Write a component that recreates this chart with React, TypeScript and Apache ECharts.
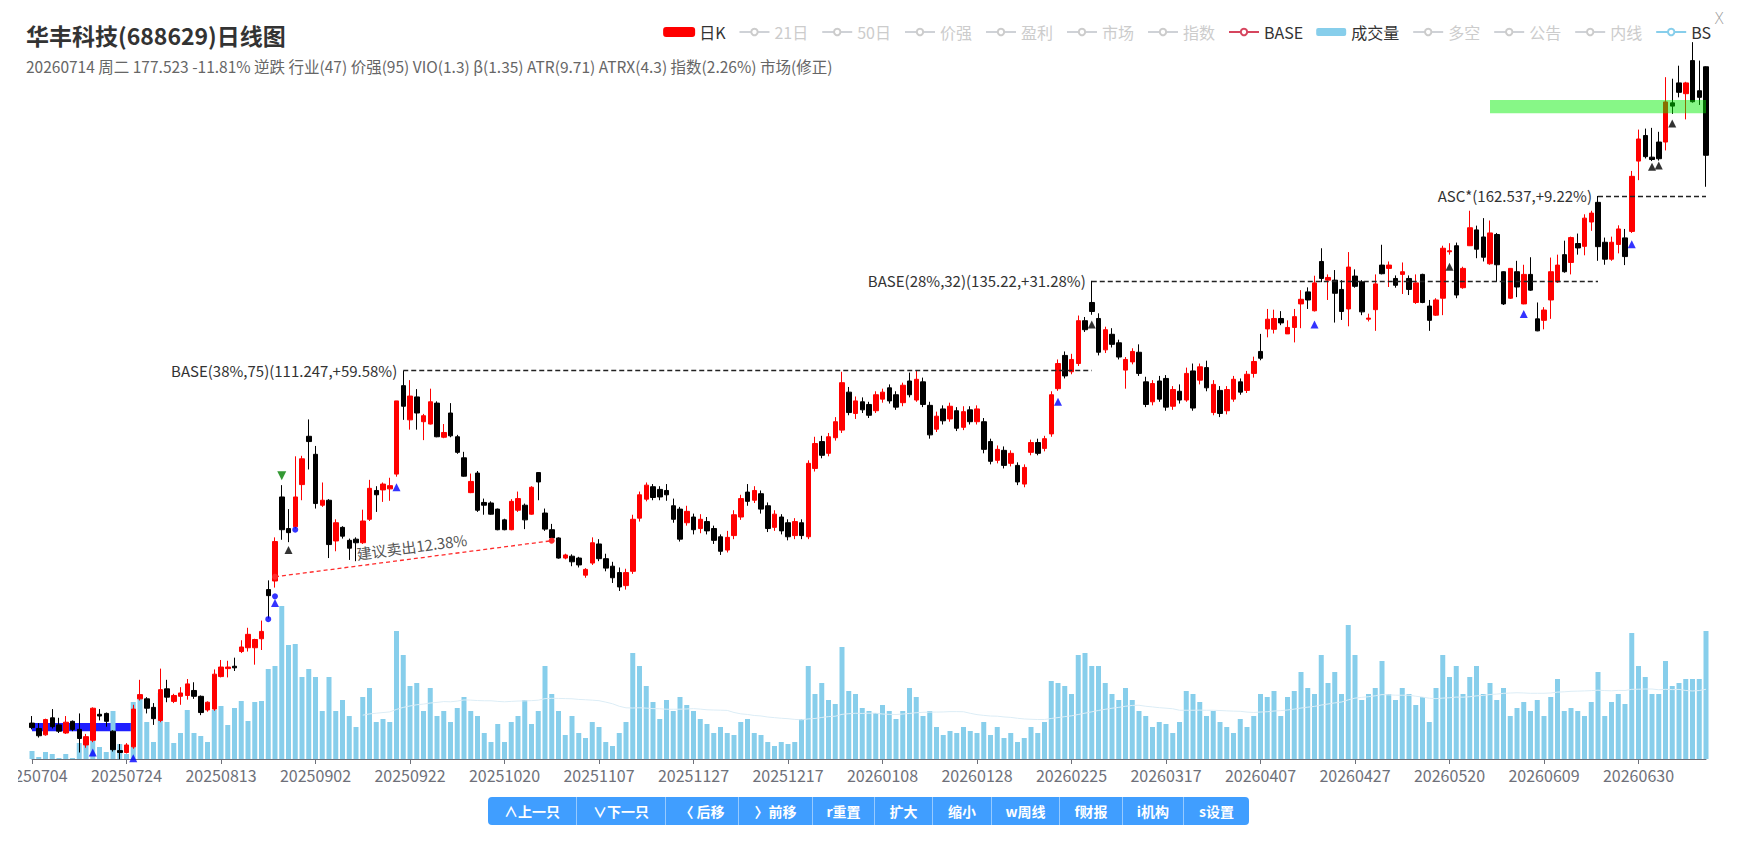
import React, { useEffect, useRef } from "react";
import * as echarts from "echarts";

const HOLIDAYS = [
  "2025-10-01", "2025-10-02", "2025-10-03", "2025-10-06", "2025-10-07", "2025-10-08",
  "2026-01-01", "2026-01-02", "2026-02-16", "2026-02-17", "2026-02-18", "2026-02-19",
  "2026-02-20", "2026-02-23", "2026-04-06", "2026-05-01", "2026-05-04", "2026-05-05", "2026-06-19",
];

function buildTradingDays(): string[] {
  const out: string[] = [];
  const d = new Date(Date.UTC(2025, 6, 4));
  const end = Date.UTC(2026, 6, 14);
  while (d.getTime() <= end) {
    const iso = d.toISOString().slice(0, 10);
    const wd = d.getUTCDay();
    if (wd !== 0 && wd !== 6 && HOLIDAYS.indexOf(iso) < 0) out.push(iso.replace(/-/g, ""));
    d.setUTCDate(d.getUTCDate() + 1);
  }
  return out;
}
const dates = buildTradingDays();

// [open, close, low, high]
const kline: number[][] = [
  [51.8, 51.3, 51.1, 52.6], [51.2, 50.4, 50.2, 51.8], [50.5, 52.2, 50.4, 52.3], [52.4, 51.4, 51.2, 53.4],
  [51.6, 50.9, 50.7, 52.4], [50.7, 51.9, 50.6, 52.6], [52.0, 51.1, 50.9, 52.1], [51.1, 50.1, 48.6, 52.9],
  [49.4, 50.3, 49.1, 50.6], [49.9, 53.5, 49.7, 53.6], [52.8, 52.6, 52.1, 53.4], [52.9, 52.0, 51.4, 53.0],
  [50.9, 48.9, 48.7, 51.0], [48.8, 48.6, 47.9, 49.5], [48.6, 49.4, 48.5, 49.6], [49.2, 53.4, 49.0, 53.9],
  [54.6, 55.1, 54.4, 56.9], [54.6, 53.5, 52.9, 54.8], [53.6, 52.3, 51.6, 54.1], [52.1, 55.7, 51.9, 58.3],
  [55.8, 54.8, 54.2, 56.9], [54.3, 55.0, 54.1, 55.2], [54.9, 55.3, 53.9, 56.0], [55.0, 56.4, 54.5, 57.0],
  [55.6, 54.9, 54.6, 56.6], [54.9, 53.0, 52.7, 55.0], [53.3, 54.2, 53.1, 54.3], [53.4, 57.6, 53.2, 58.2],
  [57.3, 58.5, 57.2, 59.4], [58.3, 58.5, 57.2, 59.3], [58.6, 58.4, 58.0, 59.7], [60.5, 61.1, 60.3, 62.0],
  [61.0, 62.8, 60.5, 63.7], [61.0, 62.1, 58.8, 62.2], [62.2, 63.2, 60.7, 64.7], [69.2, 68.3, 65.0, 70.6],
  [70.5, 76.8, 69.5, 77.5], [84.6, 78.8, 77.1, 86.8], [79.0, 78.3, 76.7, 82.4], [79.3, 84.6, 79.0, 92.4],
  [86.9, 91.9, 84.0, 92.5], [96.5, 95.4, 89.8, 100.1], [92.8, 83.4, 82.5, 94.5], [83.1, 84.0, 82.8, 87.3],
  [84.0, 76.3, 74.1, 84.2], [76.9, 80.0, 75.2, 80.6], [79.2, 77.7, 77.3, 79.4], [77.0, 75.7, 73.8, 77.3],
  [77.2, 76.6, 73.6, 77.5], [76.6, 80.3, 76.4, 82.3], [80.6, 86.2, 80.3, 87.8], [85.8, 85.0, 81.9, 86.6],
  [85.9, 87.0, 83.7, 87.3], [86.1, 86.7, 83.9, 88.2], [88.9, 104.2, 88.4, 104.2], [107.7, 103.0, 100.0, 111.247],
  [100.0, 105.3, 97.9, 109.0], [105.1, 101.5, 97.9, 106.9], [99.6, 100.9, 95.7, 101.3], [99.1, 104.0, 99.0, 107.0],
  [103.7, 96.4, 96.3, 104.1], [96.3, 97.3, 96.1, 99.1], [101.5, 96.6, 96.3, 103.7], [96.4, 93.2, 92.9, 96.8],
  [92.1, 88.5, 88.4, 93.3], [85.4, 87.5, 85.3, 89.0], [89.1, 82.2, 81.9, 89.5], [83.6, 83.1, 81.4, 84.3],
  [83.5, 81.5, 81.4, 83.8], [82.4, 78.8, 78.7, 82.5], [80.5, 78.8, 78.7, 80.7], [78.8, 83.8, 78.7, 84.2],
  [82.2, 84.3, 81.9, 85.6], [83.1, 80.5, 78.9, 83.4], [81.5, 86.4, 81.4, 86.6], [89.2, 87.4, 84.0, 89.3],
  [81.7, 78.9, 78.6, 82.5], [78.8, 77.4, 76.9, 79.8], [77.4, 74.1, 74.0, 77.5], [74.1, 74.6, 73.9, 74.8],
  [74.4, 73.5, 72.8, 74.7], [74.1, 73.0, 72.6, 74.3], [71.4, 72.3, 71.0, 72.5], [73.3, 76.6, 73.0, 77.5],
  [76.4, 74.0, 73.6, 77.2], [74.0, 72.5, 72.0, 74.8], [72.8, 71.0, 70.2, 73.5], [71.8, 69.6, 69.0, 72.6],
  [69.8, 71.8, 69.2, 72.4], [72.0, 80.6, 71.6, 81.4], [80.8, 85.0, 80.2, 85.6], [84.2, 86.8, 83.8, 87.3],
  [86.5, 84.5, 84.0, 87.0], [86.0, 84.6, 84.0, 86.6], [85.8, 85.0, 83.9, 87.0], [83.0, 80.6, 80.0, 84.3],
  [82.4, 77.2, 76.8, 82.8], [80.0, 82.0, 79.5, 83.0], [81.0, 78.8, 78.0, 81.6], [79.0, 80.6, 78.2, 81.5],
  [80.2, 78.6, 78.0, 81.0], [79.0, 77.0, 76.4, 79.5], [77.6, 75.2, 74.6, 78.0], [75.4, 77.5, 75.0, 78.6],
  [77.8, 81.4, 77.2, 82.2], [81.0, 84.3, 80.5, 85.0], [85.5, 83.8, 83.0, 87.0], [84.0, 85.8, 83.5, 86.6],
  [85.2, 82.4, 81.6, 85.8], [83.0, 79.0, 78.4, 83.6], [79.2, 81.5, 78.6, 82.2], [81.0, 78.6, 78.0, 81.5],
  [80.0, 77.6, 77.0, 80.6], [77.8, 80.2, 77.2, 80.8], [80.0, 77.8, 77.2, 80.6], [77.6, 91.0, 77.2, 91.6],
  [90.0, 95.0, 89.4, 96.4], [95.4, 92.6, 92.0, 96.6], [93.0, 96.4, 92.4, 97.2], [96.2, 99.6, 95.6, 100.6],
  [97.8, 108.4, 97.2, 111.0], [106.2, 101.6, 101.0, 107.4], [101.4, 104.2, 100.2, 105.2], [104.0, 102.2, 101.5, 105.0],
  [103.4, 101.0, 100.4, 104.0], [102.0, 105.6, 101.5, 106.4], [104.6, 106.2, 103.8, 107.0], [107.2, 104.2, 103.6, 108.0],
  [105.6, 102.8, 102.2, 106.4], [103.8, 107.8, 103.0, 108.4], [108.8, 105.6, 105.0, 110.8], [104.4, 109.2, 104.0, 111.2],
  [108.6, 103.4, 102.8, 109.6], [103.2, 96.8, 96.0, 104.0], [98.0, 100.8, 97.4, 101.8], [102.4, 99.8, 99.0, 103.2],
  [100.2, 103.0, 99.6, 103.8], [102.0, 98.2, 97.6, 102.8], [98.4, 101.8, 97.8, 103.0], [102.2, 99.6, 99.0, 103.0],
  [99.6, 102.4, 99.0, 103.2], [99.6, 93.8, 93.0, 100.4], [95.4, 91.4, 90.8, 96.0], [91.6, 93.8, 91.0, 94.6],
  [93.6, 90.6, 90.0, 94.4], [91.0, 93.0, 90.4, 93.6], [90.6, 87.4, 86.8, 91.2], [87.0, 90.2, 86.4, 90.8],
  [93.2, 95.2, 92.6, 95.8], [95.2, 93.0, 92.6, 96.0], [94.0, 96.0, 93.4, 96.6], [97.0, 105.6, 96.4, 106.4],
  [107.0, 113.0, 106.5, 114.0], [115.0, 110.0, 109.4, 116.0], [111.0, 114.0, 110.4, 115.4], [113.0, 124.0, 112.4, 125.4],
  [124.0, 121.6, 121.0, 125.0], [129.0, 126.5, 125.6, 135.22], [124.6, 115.8, 115.0, 126.0], [116.4, 121.6, 115.6, 122.4],
  [120.4, 117.8, 117.0, 122.0], [118.2, 114.6, 114.0, 119.0], [111.4, 114.0, 107.0, 114.6], [113.4, 116.0, 112.8, 116.8],
  [115.8, 110.6, 110.0, 117.8], [108.6, 103.4, 102.8, 109.8], [104.0, 108.2, 103.2, 109.0], [108.8, 104.6, 104.0, 110.0],
  [109.4, 102.8, 102.0, 110.2], [103.0, 106.8, 102.2, 107.6], [106.4, 104.4, 103.6, 108.0], [104.4, 110.6, 104.0, 112.0],
  [111.2, 102.6, 102.0, 113.0], [109.0, 112.2, 108.0, 113.0], [112.0, 107.2, 106.4, 113.7], [101.6, 108.0, 101.0, 109.0],
  [106.6, 101.4, 100.6, 107.6], [102.0, 106.8, 101.2, 107.6], [104.6, 109.2, 104.0, 110.0], [108.6, 106.2, 105.6, 109.4],
  [106.6, 110.4, 106.0, 111.2], [110.6, 113.5, 109.6, 114.7], [116.0, 114.3, 113.8, 120.5], [121.8, 124.4, 119.6, 127.2],
  [121.7, 124.6, 120.6, 127.0], [124.6, 123.4, 122.8, 126.6], [120.5, 122.2, 120.5, 124.1], [122.2, 125.1, 118.3, 127.2],
  [128.6, 129.9, 122.0, 132.5], [132.0, 129.7, 127.2, 133.3], [126.7, 134.6, 126.5, 136.7], [141.0, 135.9, 134.8, 145.1],
  [135.4, 136.2, 129.7, 137.1], [135.4, 131.6, 123.5, 138.4], [132.7, 126.5, 124.2, 135.4], [127.2, 139.3, 122.5, 143.9],
  [136.6, 133.6, 133.2, 138.6], [134.9, 126.4, 125.5, 135.4], [124.4, 124.7, 123.8, 125.9], [127.0, 134.3, 121.3, 137.1],
  [139.9, 137.3, 137.1, 146.2], [138.9, 139.9, 133.4, 141.0], [135.9, 133.9, 133.2, 136.8], [137.1, 137.9, 131.4, 140.7],
  [135.9, 132.7, 131.1, 136.8], [129.0, 134.6, 128.6, 137.1], [137.1, 129.0, 128.8, 137.3], [128.0, 124.1, 121.3, 129.7],
  [125.5, 129.7, 125.3, 130.2], [130.2, 145.1, 125.5, 145.9], [144.0, 144.3, 143.1, 146.7], [145.9, 131.1, 130.2, 146.9],
  [133.2, 138.9, 132.9, 139.4], [145.9, 151.7, 145.8, 157.4], [151.0, 144.8, 142.0, 152.4], [148.7, 142.3, 141.0, 154.9],
  [140.3, 150.0, 140.0, 154.1], [149.5, 140.0, 134.9, 150.0], [137.9, 128.6, 128.3, 138.0], [130.2, 138.9, 130.0, 139.0],
  [137.9, 133.4, 130.5, 141.2], [128.6, 137.1, 128.5, 140.0], [137.1, 132.5, 132.3, 142.3], [124.5, 121.3, 121.2, 129.0],
  [124.1, 126.9, 121.7, 127.7], [129.7, 137.9, 124.5, 142.2], [134.9, 139.9, 134.6, 143.1], [143.1, 137.9, 137.6, 147.5],
  [140.7, 148.5, 137.1, 148.8], [146.6, 145.2, 143.1, 149.8], [145.7, 154.9, 142.9, 156.2], [153.6, 156.6, 150.7, 157.4],
  [160.3, 145.6, 141.2, 162.537], [147.0, 141.7, 140.0, 148.5], [141.7, 147.0, 141.2, 148.8], [146.3, 151.3, 143.5, 152.5],
  [148.4, 142.5, 139.9, 151.3], [150.5, 169.6, 150.0, 171.6], [175.3, 183.9, 168.2, 187.7], [185.3, 177.0, 176.3, 188.1],
  [176.8, 175.9, 175.3, 188.4], [182.7, 176.2, 175.5, 186.8], [182.7, 199.3, 179.4, 210.3], [198.9, 197.5, 194.2, 209.6],
  [207.7, 203.5, 201.3, 215.6], [202.9, 207.7, 191.9, 208.2], [218.0, 199.4, 199.0, 226.9], [204.2, 201.3, 198.0, 218.0],
  [215.1, 177.523, 165.8, 215.3],
];

const volumes: number[] = [
  8, 2, 7, 5, 1, 5, 1, 16, 14, 18, 12, 7, 48, 15, 5, 57, 65, 37, 17, 66,
  37, 16, 26, 49, 26, 23, 17, 49, 53, 34, 51, 58, 38, 57, 58, 90, 93, 153, 114, 115,
  82, 90, 82, 48, 82, 48, 59, 43, 32, 62, 71, 37, 40, 37, 128, 104, 73, 76, 48, 71,
  43, 48, 37, 51, 62, 48, 43, 26, 17, 35, 17, 37, 43, 59, 35, 48, 93, 65, 48, 24,
  43, 26, 21, 37, 32, 17, 13, 26, 37, 106, 93, 73, 57, 40, 59, 48, 62, 54, 48, 40,
  35, 26, 32, 26, 24, 37, 40, 26, 24, 17, 13, 17, 15, 17, 40, 93, 65, 76, 59, 55,
  112, 68, 65, 51, 48, 46, 54, 48, 40, 48, 71, 62, 43, 48, 32, 24, 28, 26, 32, 28,
  26, 37, 24, 32, 21, 26, 17, 21, 32, 26, 37, 78, 76, 73, 65, 104, 106, 93, 93, 76,
  65, 59, 71, 59, 48, 43, 32, 37, 35, 26, 37, 68, 65, 57, 43, 48, 37, 32, 26, 40,
  32, 43, 65, 62, 68, 43, 62, 68, 87, 71, 65, 104, 76, 87, 65, 134, 104, 59, 65, 71,
  98, 65, 59, 71, 65, 54, 62, 37, 71, 104, 82, 93, 65, 82, 93, 65, 76, 59, 71, 43,
  51, 57, 48, 59, 43, 62, 80, 48, 51, 48, 43, 57, 87, 43, 57, 65, 55, 126, 93, 82,
  65, 65, 98, 73, 76, 80, 80, 80, 128,
];

// BS markers: [day index, price]
const buyTriangles = [[9, 48.6], [15, 48.0], [36, 67.2], [54, 86.4], [152, 104.0], [190, 123.0], [221, 125.8], [237, 146.4]];
const blackTriangles = [[38, 75.4], [157, 123.0], [210, 139.4], [240, 173.2], [241, 173.6], [243, 190.2]];
const blueDots = [[35, 64.9], [36, 68.2], [39, 78.8]];
const greenDown = [[37, 88.6]];

const baseLines = [
  { from: 55, to: 157, price: 111.247, text: "BASE(38%,75)(111.247,+59.58%)" },
  { from: 157, to: 232, price: 135.22, text: "BASE(28%,32)(135.22,+31.28%)" },
  { from: 232, to: 248, price: 162.537, text: "ASC*(162.537,+9.22%)" },
];
const sellLine = { from: [36, 71.15], to: [77, 76.94], text: "建议卖出12.38%" };
const greenZone = { from: 216, to: 248, top: 200.1, bottom: 194.5 };
const blueZone = { from: 0, to: 15, top: 51.8, bottom: 50.9 };

const legendNames = ["日K", "21日", "50日", "价强", "盈利", "市场", "指数", "BASE", "成交量", "多空", "公告", "内线", "BS"];
const hiddenLines = ["21日", "50日", "价强", "盈利", "市场", "指数", "多空", "公告", "内线"];

const buttons = [
  { t: "∧上一只", w: 88 }, { t: "∨下一只", w: 89 }, { t: "〈 后移", w: 73 }, { t: "〉前移", w: 74 },
  { t: "r重置", w: 62 }, { t: "扩大", w: 58 }, { t: "缩小", w: 59 }, { t: "w周线", w: 68 },
  { t: "f财报", w: 63 }, { t: "i机构", w: 61 }, { t: "s设置", w: 66 },
];

const FONT = "'Noto Sans CJK SC', 'Noto Sans', sans-serif";

export default function App() {
  const ref = useRef<HTMLDivElement>(null);
  useEffect(() => {
    if (!ref.current) return;
    const chart = echarts.init(ref.current, undefined, { renderer: "svg" });
    const volMA = volumes.map((_, i) => {
      if (i < 49) return null;
      let s = 0;
      for (let k = i - 49; k <= i; k++) s += volumes[k];
      return +(s / 50).toFixed(2);
    });
    const marker = (pts: number[][], symbol: string, color: string, size: number, rotate = 0) =>
      pts.map((p) => ({ value: p, symbol, symbolSize: size, symbolRotate: rotate, itemStyle: { color } }));

    const selected: Record<string, boolean> = {};
    hiddenLines.forEach((n) => (selected[n] = false));

    const option: any = {
      animation: false,
      textStyle: { fontFamily: FONT },
      title: {
        text: "华丰科技(688629)日线图",
        subtext: "20260714 周二 177.523 -11.81% 逆跌 行业(47) 价强(95) VIO(1.3) β(1.35) ATR(9.71) ATRX(4.3) 指数(2.26%) 市场(修正)",
        left: 3,
        top: 10,
        itemGap: 12,
        textStyle: { fontSize: 23, fontWeight: "bold", color: "#333", fontFamily: FONT },
        subtextStyle: { fontSize: 15.5, color: "#666", fontFamily: FONT },
      },
      legend: {
        data: legendNames,
        selected,
        right: 15,
        top: 11,
        itemGap: 13,
        itemWidth: 30,
        itemHeight: 8,
        inactiveColor: "#ccc",
        textStyle: { fontSize: 16, color: "#333", fontFamily: FONT },
      },
      graphic: [
        { type: "text", left: 1696, top: 3, style: { text: "X", fontSize: 15, fill: "#999", fontFamily: "DejaVu Sans", fontWeight: "lighter" } },
      ],
      grid: { left: 14, right: 25, top: 32, bottom: 31, outerBoundsMode: "none", containLabel: false },
      xAxis: {
        type: "category",
        data: dates,
        boundaryGap: false,
        axisLine: { lineStyle: { color: "#6E7079" } },
        axisTick: { interval: 13, length: 5, lineStyle: { color: "#6E7079" } },
        axisLabel: { interval: 13, fontSize: 16, color: "#6E7079", margin: 8, fontFamily: FONT },
        splitLine: { show: false },
      },
      yAxis: [
        { type: "log", logBase: 10, min: 47.92, max: 227.96, show: false, splitLine: { show: false } },
        { type: "value", min: 0, max: 719, show: false, splitLine: { show: false } },
      ],
      series: [
        {
          name: "日K",
          type: "candlestick",
          data: kline,
          barWidth: 5,
          clip: false,
          z: 3,
          itemStyle: { color: "#ff0000", color0: "#000000", borderColor: "#ff0000", borderColor0: "#000000", borderWidth: 1 },
          markLine: {
            silent: true,
            symbol: "none",
            animation: false,
            data: [
              ...baseLines.map((b) => [
                {
                  coord: [b.from, b.price],
                  lineStyle: { color: "#222", type: [5, 3], width: 1.3 },
                  label: { show: true, position: "start", formatter: b.text, color: "#333", fontSize: 15, fontFamily: FONT, distance: 6 },
                },
                { coord: [b.to, b.price] },
              ]),
              [
                {
                  coord: sellLine.from,
                  symbol: "circle",
                  symbolSize: 6,
                  lineStyle: { color: "#ff2a2a", type: [4, 3], width: 1.3 },
                  label: { show: true, position: "middle", formatter: sellLine.text, color: "#555", fontSize: 15, fontFamily: FONT },
                },
                { coord: sellLine.to, symbol: "circle", symbolSize: 6 },
              ],
            ],
          },
          markArea: {
            silent: true,
            data: [
              [
                { coord: [blueZone.from, blueZone.top], itemStyle: { color: "rgba(0,0,255,0.88)" } },
                { coord: [blueZone.to, blueZone.bottom] },
              ],
            ],
          },
        },
        ...hiddenLines.map((n) => ({ name: n, type: "line", data: [], color: "#999" })),
        { name: "BASE", type: "line", data: [], color: "#d6455e" },
        {
          name: "成交量",
          type: "bar",
          yAxisIndex: 1,
          data: volumes,
          barWidth: 5,
          clip: false,
          z: 1,
          itemStyle: { color: "#87CEEB" },
        },
        {
          name: "量均",
          type: "line",
          yAxisIndex: 1,
          data: volMA,
          showSymbol: false,
          z: 1,
          lineStyle: { color: "#dcedf6", width: 1 },
          itemStyle: { color: "#dcedf6" },
        },
        { name: "BS", type: "line", data: [], color: "#87CEEB" },
        {
          name: "BS",
          type: "scatter",
          z: 4,
          data: [
            ...marker(buyTriangles, "triangle", "#0000ff", 8),
            ...marker(blackTriangles, "triangle", "#000000", 8),
            ...marker(blueDots, "circle", "#0000ff", 6),
            ...marker(greenDown, "triangle", "#008000", 9, 180),
          ],
          markArea: {
            silent: true,
            z: 5,
            data: [
              [
                { coord: [greenZone.from, greenZone.top], itemStyle: { color: "rgba(0,238,0,0.47)" } },
                { coord: [greenZone.to, greenZone.bottom] },
              ],
            ],
          },
        },
      ],
    };
    chart.setOption(option);
    return () => chart.dispose();
  }, []);

  return (
    <div style={{ width: 1725, fontFamily: FONT }}>
      <div ref={ref} style={{ marginLeft: 10, width: 1713, height: 782 }} />
      <div style={{ display: "flex", justifyContent: "center", marginTop: 7, paddingRight: 4 }}>
        {buttons.map((b, i) => (
          <div
            key={i}
            style={{
              width: b.w,
              height: 28,
              boxSizing: "border-box",
              background: "#409EFF",
              color: "#fff",
              fontSize: 14,
              fontWeight: "bold",
              display: "flex",
              alignItems: "center",
              justifyContent: "center",
              borderLeft: i === 0 ? "none" : "1px solid rgba(255,255,255,0.45)",
              borderRadius: i === 0 ? "4px 0 0 4px" : i === buttons.length - 1 ? "0 4px 4px 0" : 0,
            }}
          >
            {b.t}
          </div>
        ))}
      </div>
    </div>
  );
}
